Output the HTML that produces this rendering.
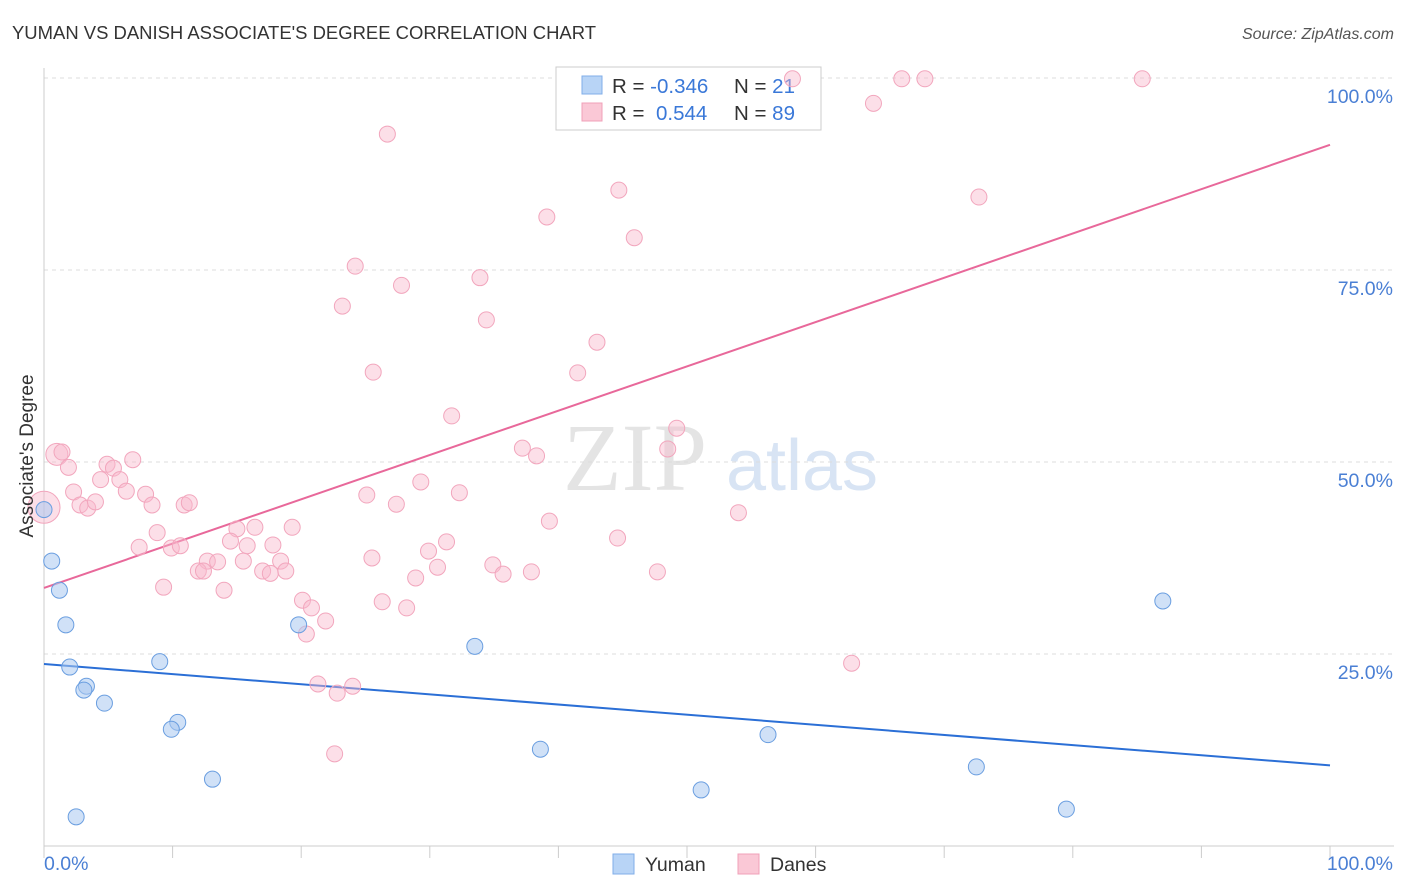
<!DOCTYPE html>
<html><head><meta charset="utf-8"><style>
body{margin:0;background:#fff;font-family:"Liberation Sans",sans-serif;}
svg{display:block}
</style></head><body>
<svg width="1406" height="892">
<text x="12" y="39" font-size="18" fill="#333" textLength="584" lengthAdjust="spacingAndGlyphs">YUMAN VS DANISH ASSOCIATE'S DEGREE CORRELATION CHART</text>
<text x="1394" y="39" font-size="16" fill="#555" font-style="italic" text-anchor="end">Source: ZipAtlas.com</text>
<g>
<text x="635" y="490" font-size="96" font-family="Liberation Serif,serif" fill="#e4e4e4" text-anchor="middle">ZIP</text>
<text x="802" y="490" font-size="72" fill="#d8e4f4" text-anchor="middle">atlas</text>
</g>
<g id="grid"></g>
<g id="axes"></g>
<g>
<rect x="556" y="67" width="265" height="63" fill="#fff" stroke="#ccc"/>
<rect x="582" y="76" width="20" height="18" fill="#b8d4f6" stroke="#80aee8"/>
<rect x="582" y="103" width="20" height="18" fill="#fac8d6" stroke="#f0a0b8"/>
<text x="612" y="93" font-size="20.5" fill="#333">R = <tspan fill="#3a78d8">-0.346</tspan><tspan x="734">N = </tspan><tspan fill="#3a78d8">21</tspan></text>
<text x="612" y="120" font-size="20.5" fill="#333">R = <tspan fill="#3a78d8" x="656">0.544</tspan><tspan x="734">N = </tspan><tspan fill="#3a78d8">89</tspan></text>
</g>
<g id="lines"></g>
<g id="pts"></g>
<text x="33" y="456" font-size="19" fill="#333" text-anchor="middle" transform="rotate(-90 33 456)">Associate's Degree</text>
<g>
<rect x="613" y="854" width="21" height="20" fill="#b8d4f6" stroke="#80aee8"/>
<text x="645" y="871" font-size="19.5" fill="#333">Yuman</text>
<rect x="738" y="854" width="21" height="20" fill="#fac8d6" stroke="#f0a0b8"/>
<text x="770" y="871" font-size="19.5" fill="#333">Danes</text>
</g>
</svg>
<script>
const yTicks=[25,50,75,100];
const yTickLabels=["25.0%","50.0%","75.0%","100.0%"];
const xTickLabels=["0.0%","100.0%"];
const danesX=[58.2,66.7,68.5,85.4,64.5,26.7,44.7,72.7,39.1,45.9,24.2,33.9,27.8,23.2,34.4,43.0,25.6,41.5,31.7,49.2,37.2,38.3,48.5,1.0,1.4,1.9,4.9,5.4,6.9,4.4,5.9,2.3,6.4,7.9,2.8,3.4,4.0,8.4,10.9,11.3,29.3,32.3,25.1,27.4,54.0,39.3,8.8,15.0,16.4,19.3,14.5,7.4,9.9,10.6,15.8,17.8,44.6,31.3,29.9,25.5,12.7,13.5,15.5,18.4,12.0,12.4,17.0,17.6,18.8,34.9,30.6,35.7,37.9,47.7,28.9,9.3,14.0,20.1,20.8,26.3,28.2,21.9,20.4,21.3,24.0,22.8,62.8,22.6,0];
const danesY=[99.9,99.9,99.9,99.9,96.7,92.7,85.4,84.5,81.9,79.2,75.5,74.0,73.0,70.3,68.5,65.6,61.7,61.6,56.0,54.4,51.8,50.8,51.7,51.0,51.3,49.3,49.7,49.2,50.3,47.7,47.7,46.1,46.2,45.8,44.4,44.0,44.8,44.4,44.4,44.7,47.4,46.0,45.7,44.5,43.4,42.3,40.8,41.3,41.5,41.5,39.7,38.9,38.8,39.1,39.1,39.2,40.1,39.6,38.4,37.5,37.1,37.0,37.1,37.1,35.8,35.8,35.8,35.5,35.8,36.6,36.3,35.4,35.7,35.7,34.9,33.7,33.3,32.0,31.0,31.8,31.0,29.3,27.6,21.1,20.8,19.9,23.8,12.0,44.1];
const yumanX=[0,0.6,1.2,1.7,2.0,3.3,3.1,4.7,9.0,10.4,9.9,13.1,2.5,19.8,33.5,38.6,51.1,56.3,72.5,79.5,87.0];
const yumanY=[43.8,37.1,33.3,28.8,23.3,20.8,20.3,18.6,24.0,16.1,15.2,8.7,3.8,28.8,26.0,12.6,7.3,14.5,10.3,4.8,31.9];
const yumanTrend=[23.7,10.5];
const danesTrend=[33.6,91.3];
const X0=44,X1=1330,Y0=846,YS=7.68;
const sx=v=>X0+(X1-X0)*v/100, sy=v=>Y0-YS*v;
const NS="http://www.w3.org/2000/svg";
function mk(p,t,a){const e=document.createElementNS(NS,t);for(const k in a)e.setAttribute(k,a[k]);p.appendChild(e);return e;}
const grid=document.getElementById('grid'),axes=document.getElementById('axes'),lines=document.getElementById('lines'),pts=document.getElementById('pts');
yTicks.forEach((t,i)=>{
 const l=mk(grid,'line',{x1:X0,x2:1394,y1:sy(t),y2:sy(t),stroke:'#ddd','stroke-dasharray':'4,4'});
 
 
 const tx=mk(axes,'text',{x:1393,y:sy(t)+25,'font-size':19.5,fill:'#4a7fd4','text-anchor':'end'});
 tx.textContent=yTickLabels[i];
 
 
});
const ax=mk(axes,'line',{x1:X0,x2:1394,y1:Y0,y2:Y0,stroke:'#ccc'});


const ay=mk(axes,'line',{x1:X0,x2:X0,y1:68,y2:Y0,stroke:'#ccc'});


for(let i=0;i<=10;i++){
 const t=mk(axes,'line',{x1:sx(i*10),x2:sx(i*10),y1:Y0,y2:858,stroke:'#ccc'});
 
 
}
const xl0=mk(axes,'text',{x:44,y:870,'font-size':19.5,fill:'#4a7fd4'});xl0.textContent=xTickLabels[0];


const xl1=mk(axes,'text',{x:1393,y:870,'font-size':19.5,fill:'#4a7fd4','text-anchor':'end'});xl1.textContent=xTickLabels[1];


danesX.forEach((x,i)=>{
 const r=i===danesX.length-1?16:(i===23?11:8);
 const c=mk(pts,'circle',{cx:sx(x),cy:sy(danesY[i]),r:r,fill:'rgba(248,184,204,0.45)',stroke:'#f2a6bd','stroke-width':1});
 
 
});
yumanX.forEach((x,i)=>{
 const c=mk(pts,'circle',{cx:sx(x),cy:sy(yumanY[i]),r:8,fill:'rgba(170,200,240,0.55)',stroke:'#6a9ee0','stroke-width':1});
 
 
});
const bl=mk(lines,'line',{x1:sx(0),y1:sy(yumanTrend[0]),x2:sx(100),y2:sy(yumanTrend[1]),stroke:'#2b6fd6','stroke-width':2});


const pl=mk(lines,'line',{x1:sx(0),y1:sy(danesTrend[0]),x2:sx(100),y2:sy(danesTrend[1]),stroke:'#e8689a','stroke-width':2});


</script>
</body></html>
